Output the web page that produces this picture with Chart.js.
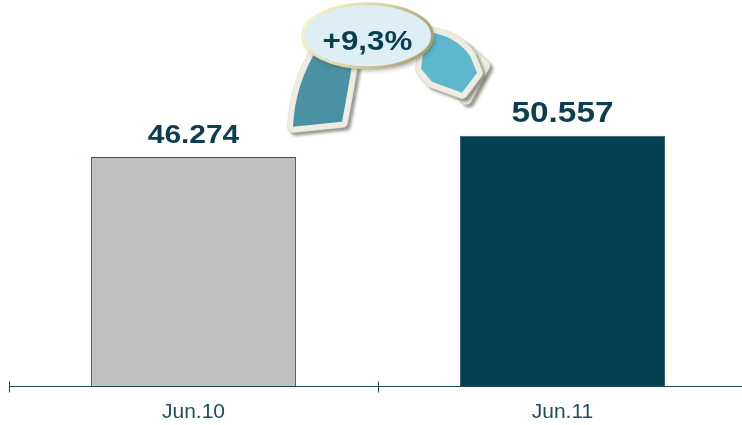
<!DOCTYPE html>
<html><head><meta charset="utf-8">
<script src="https://cdn.jsdelivr.net/npm/chart.js@4/dist/chart.umd.min.js"></script>
<style>
html,body{margin:0;padding:0;background:#fff;overflow:hidden;}
#wrap{position:relative;width:756px;height:425px;}
</style>
</head><body>
<div id="wrap"><canvas id="c"></canvas></div>
<script>
// ---- data ----
const categories = ['Jun.10', 'Jun.11'];
const values = [46274, 50557];
const valueLabels = ['46.274', '50.557'];
const changeLabel = '+9,3%';

// ---- styles ----
const barColors = ['#c0c0c0', '#064052'];
const barBorder = '#2f5666';
const axisColor = '#1d4a5a';
const tickTextColor = '#1f4e60';
const valueTextColor = '#0b3e50';
const valueFontSizes = [26, 29];

const decoPlugin = {
  id: 'deco',
  afterDraw(chart) {
    const ctx = chart.ctx;
    const xs = chart.scales.x, ys = chart.scales.y;
    const meta = chart.getDatasetMeta(0);

    // axis tick marks crossing the axis line
    ctx.save();
    ctx.strokeStyle = axisColor;
    ctx.lineWidth = 1;
    const ay = Math.round(ys.getPixelForValue(0)) + 0.5;
    for (let i = 0; i <= categories.length; i++) {
      const x = Math.round(xs.getPixelForValue(i - 0.5)) + 0.5;
      ctx.beginPath(); ctx.moveTo(x, ay - 5); ctx.lineTo(x, ay + 6); ctx.stroke();
    }
    ctx.restore();

    // value labels above the bars (slightly widened like the original)
    meta.data.forEach((bar, i) => {
      ctx.save();
      ctx.translate(bar.x, bar.y - 14);
      ctx.scale(1.15, 1);
      ctx.font = 'bold ' + valueFontSizes[i] + 'px "Liberation Sans", Arial, sans-serif';
      ctx.fillStyle = valueTextColor;
      ctx.textAlign = 'center';
      ctx.textBaseline = 'alphabetic';
      ctx.fillText(valueLabels[i], 0, 0);
      ctx.restore();
    });

    // curved arrow decoration, anchored between the bars above the taller one
    const mx = (xs.getPixelForValue(0) + xs.getPixelForValue(1)) / 2;
    const my = ys.getPixelForValue(Math.max(...values));
    const P = (dx, dy) => [mx + dx, my + dy];

    function drawPiece(build, fill) {
      ctx.save();
      ctx.lineJoin = 'round';
      ctx.shadowColor = 'rgba(70,70,60,0.55)';
      ctx.shadowOffsetX = 3; ctx.shadowOffsetY = 3; ctx.shadowBlur = 3;
      build(); ctx.strokeStyle = '#e6e3d4'; ctx.lineWidth = 12; ctx.stroke();
      ctx.shadowColor = 'transparent';
      build(); ctx.strokeStyle = '#efede3'; ctx.lineWidth = 10; ctx.stroke();
      if (fill) { build(); ctx.fillStyle = fill; ctx.fill(); }
      ctx.restore();
    }

    // left (darker) part
    drawPiece(() => {
      ctx.beginPath();
      ctx.moveTo(...P(-85, -9));
      ctx.quadraticCurveTo(...P(-83, -52), ...P(-60, -88));
      ctx.lineTo(...P(-24, -82));
      ctx.quadraticCurveTo(...P(-31, -40), ...P(-36, -14));
      ctx.closePath();
    }, '#4a91a3');

    // arrowhead outline behind the right part
    drawPiece(() => {
      ctx.beginPath();
      ctx.moveTo(...P(86, -88));
      ctx.lineTo(...P(106, -70));
      ctx.lineTo(...P(88, -37));
      ctx.lineTo(...P(80, -48));
      ctx.closePath();
    }, '#efede3');

    // right (lighter) part with arrow point
    drawPiece(() => {
      ctx.beginPath();
      ctx.moveTo(...P(48, -104));
      ctx.quadraticCurveTo(...P(77, -101), ...P(92, -80));
      ctx.lineTo(...P(99, -63));
      ctx.lineTo(...P(84, -43));
      ctx.lineTo(...P(54, -54));
      ctx.lineTo(...P(43, -67));
      ctx.closePath();
    }, '#5db7cd');

    // ellipse with the change label
    const [ex, ey] = P(-10.5, -100);
    ctx.save();
    ctx.shadowColor = 'rgba(70,70,60,0.45)';
    ctx.shadowOffsetX = 2; ctx.shadowOffsetY = 3; ctx.shadowBlur = 4;
    ctx.beginPath();
    ctx.ellipse(ex, ey, 65, 32, 0, 0, Math.PI * 2);
    ctx.fillStyle = '#ddeef4';
    ctx.fill();
    ctx.shadowColor = 'transparent';
    const g = ctx.createLinearGradient(ex - 50, ey - 30, ex + 50, ey + 30);
    g.addColorStop(0, '#f5f2c8');
    g.addColorStop(0.5, '#d8d2a4');
    g.addColorStop(1, '#a89f70');
    ctx.strokeStyle = g;
    ctx.lineWidth = 3;
    ctx.stroke();
    ctx.translate(ex, ey + 14);
    ctx.scale(1.12, 1);
    ctx.font = 'bold 28px "Liberation Sans", Arial, sans-serif';
    ctx.fillStyle = valueTextColor;
    ctx.textAlign = 'center';
    ctx.textBaseline = 'alphabetic';
    ctx.fillText(changeLabel, 0, 0);
    ctx.restore();
  }
};

new Chart(document.getElementById('c'), {
  type: 'bar',
  data: {
    labels: categories,
    datasets: [{
      data: values,
      backgroundColor: barColors,
      borderColor: barBorder,
      borderWidth: 1,
      borderSkipped: 'bottom',
      categoryPercentage: 1,
      barPercentage: 0.556
    }]
  },
  options: {
    responsive: true,
    maintainAspectRatio: false,
    animation: false,
    devicePixelRatio: 1,
    layout: { padding: { left: 9, right: 9, top: 0, bottom: 0 } },
    plugins: { legend: { display: false }, tooltip: { enabled: false } },
    scales: {
      x: {
        offset: true,
        grid: { display: false, drawTicks: false },
        border: { display: true, color: axisColor, width: 1 },
        ticks: {
          padding: 14,
          color: tickTextColor,
          font: { family: '"Liberation Sans", Arial, sans-serif', size: 21 }
        },
        afterFit(scale) { scale.height = 39; }
      },
      y: {
        display: false,
        min: 0,
        max: 78000
      }
    }
  },
  plugins: [decoPlugin]
});
</script>
</body></html>
